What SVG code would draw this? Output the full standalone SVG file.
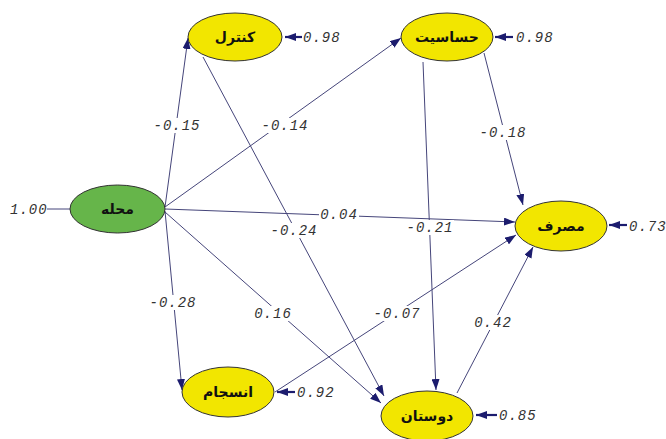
<svg xmlns="http://www.w3.org/2000/svg" width="666" height="439" viewBox="0 0 666 439">
<style>
.edge{stroke:#45457a;stroke-width:1;fill:none}
.err{stroke:#1c1c6e;stroke-width:2.2;fill:none}
.bg{fill:#fff}
.lbl{font-family:"Liberation Mono",monospace;font-style:italic;font-size:14px;letter-spacing:1px;fill:#333;text-anchor:middle}
.val{font-family:"Liberation Mono",monospace;font-style:italic;font-size:14px;letter-spacing:1px;fill:#333}
.node{stroke:#333;stroke-width:1}
.y{fill:#f2e600}
.g{fill:#66b54a}
.nm{font-family:"DejaVu Sans",sans-serif;font-weight:bold;font-size:14px;fill:#111;text-anchor:middle}
</style>
<defs>
<marker id="ah" markerUnits="userSpaceOnUse" markerWidth="11" markerHeight="8" refX="11" refY="4" orient="auto">
<path d="M0,0 L11,4 L0,8 z" fill="#1c1c6e"/>
</marker>
</defs>
<g id="connectors">
<line class="edge" x1="165" y1="207" x2="188" y2="38" marker-end="url(#ah)"/>
<line class="edge" x1="165" y1="207" x2="401" y2="38" marker-end="url(#ah)"/>
<line class="edge" x1="165" y1="209" x2="515" y2="222" marker-end="url(#ah)"/>
<line class="edge" x1="165" y1="211" x2="182" y2="390" marker-end="url(#ah)"/>
<line class="edge" x1="165" y1="212" x2="381" y2="403" marker-end="url(#ah)"/>
<line class="edge" x1="203" y1="57" x2="384" y2="396" marker-end="url(#ah)"/>
<line class="edge" x1="484" y1="53" x2="523" y2="205" marker-end="url(#ah)"/>
<line class="edge" x1="423" y1="62" x2="436" y2="390" marker-end="url(#ah)"/>
<line class="edge" x1="275" y1="392" x2="516" y2="235" marker-end="url(#ah)"/>
<line class="edge" x1="457" y1="393" x2="533" y2="247" marker-end="url(#ah)"/>
<line class="edge" x1="47" y1="209" x2="70" y2="209"/>
<line class="err" x1="302" y1="37" x2="285" y2="37" marker-end="url(#ah)"/>
<line class="err" x1="513" y1="37" x2="495" y2="37" marker-end="url(#ah)"/>
<line class="err" x1="627" y1="225" x2="609" y2="225" marker-end="url(#ah)"/>
<line class="err" x1="295" y1="392" x2="277" y2="392" marker-end="url(#ah)"/>
<line class="err" x1="497" y1="415" x2="476" y2="415" marker-end="url(#ah)"/>
<rect class="bg" x="153" y="118" width="48" height="15"/>
<rect class="bg" x="261" y="118" width="48" height="15"/>
<rect class="bg" x="319" y="207" width="40" height="15"/>
<rect class="bg" x="149" y="295" width="48" height="15"/>
<rect class="bg" x="253" y="306" width="40" height="15"/>
<rect class="bg" x="270" y="223" width="48" height="15"/>
<rect class="bg" x="479" y="125" width="48" height="15"/>
<rect class="bg" x="406" y="220" width="48" height="15"/>
<rect class="bg" x="373" y="306" width="48" height="15"/>
<rect class="bg" x="473" y="315" width="40" height="15"/>
<text class="lbl" x="177" y="130">-0.15</text>
<text class="lbl" x="285" y="130">-0.14</text>
<text class="lbl" x="339" y="219">0.04</text>
<text class="lbl" x="173" y="307">-0.28</text>
<text class="lbl" x="273" y="318">0.16</text>
<text class="lbl" x="294" y="235">-0.24</text>
<text class="lbl" x="503" y="137">-0.18</text>
<text class="lbl" x="430" y="232">-0.21</text>
<text class="lbl" x="397" y="318">-0.07</text>
<text class="lbl" x="493" y="327">0.42</text>
</g>
<g id="n-mahaleh">
<ellipse class="node g" cx="117.5" cy="209" rx="47.5" ry="24"/>
<text class="nm" x="117.5" y="214">محله</text>
<text class="val" x="10" y="214">1.00</text>
</g>
<g id="n-control">
<ellipse class="node y" cx="235" cy="37" rx="47" ry="24"/>
<text class="nm" x="235" y="42">کنترل</text>
<text class="val" x="303" y="42">0.98</text>
</g>
<g id="n-hasasiat">
<ellipse class="node y" cx="447" cy="37" rx="46" ry="24"/>
<text class="nm" x="447" y="42">حساسیت</text>
<text class="val" x="516" y="42">0.98</text>
</g>
<g id="n-masraf">
<ellipse class="node y" cx="561" cy="226" rx="46" ry="25"/>
<text class="nm" x="561" y="231">مصرف</text>
<text class="val" x="629" y="231">0.73</text>
</g>
<g id="n-ensejam">
<ellipse class="node y" cx="228" cy="392" rx="46" ry="25"/>
<text class="nm" x="228" y="397">انسجام</text>
<text class="val" x="297" y="397">0.92</text>
</g>
<g id="n-doostan">
<ellipse class="node y" cx="427" cy="416" rx="46" ry="25"/>
<text class="nm" x="427" y="421">دوستان</text>
<text class="val" x="499" y="420">0.85</text>
</g>
</svg>
